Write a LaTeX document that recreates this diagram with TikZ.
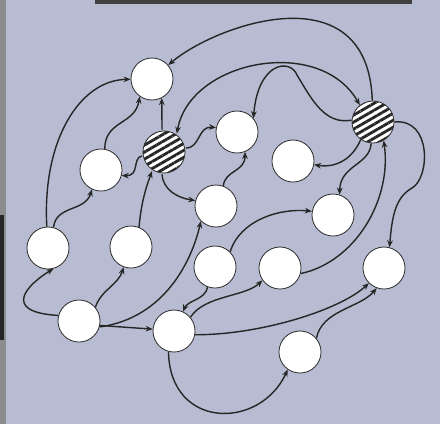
\documentclass[tikz,border=0pt]{standalone}
\usepackage{tikz}
\usetikzlibrary{arrows.meta,patterns.meta}
\definecolor{panel}{RGB}{184,188,210}
\begin{document}
\begin{tikzpicture}[x=0.025cm,y=-0.025cm,>={Stealth[length=5pt,width=4pt]},
  vtx/.style={circle,draw=black!80,line width=0.6pt,fill=white,minimum size=1.05cm,inner sep=0pt},
  hub/.style={circle,draw=black!80,line width=0.6pt,minimum size=1.05cm,inner sep=0pt,preaction={fill=white},pattern={Lines[angle=30,distance=4.3pt,line width=2pt]},pattern color=black!85},
  conn/.style={->,line width=1pt,black!85}]
\useasboundingbox (0,0) rectangle (440,424);
\fill[panel] (0,0) rectangle (440,424);
\fill[black!45] (0,0) rectangle (6,424);
\fill[black!85] (0,215) rectangle (4,340);
\fill[black!75] (95,0) rectangle (412,4);
\node[vtx] (n1) at (152,79) {};
\node[hub] (h1) at (164,152) {};
\node[hub] (h2) at (373,122) {};
\node[vtx] (n2) at (237,132) {};
\node[vtx] (n3) at (101,170) {};
\node[vtx] (n4) at (293,161) {};
\node[vtx] (n5) at (216,206) {};
\node[vtx] (n6) at (333,215) {};
\node[vtx] (n7) at (48,248) {};
\node[vtx] (n8) at (131,247) {};
\node[vtx] (n9) at (215,267) {};
\node[vtx] (n10) at (280,268) {};
\node[vtx] (n11) at (384,268) {};
\node[vtx] (n12) at (79,321) {};
\node[vtx] (n13) at (174,331) {};
\node[vtx] (n14) at (300,352) {};
\draw[conn] (h2) .. controls (368,-30) and (215,25) .. (n1);
\draw[conn] (n7) .. controls (42,140) and (80,80) .. (n1);
\draw[conn] (n7.75) .. controls (56,205) and (85,212) .. (n3.245);
\draw[conn] (n3.80) .. controls (105,120) and (135,125) .. (n1.235);
\draw[conn] (h1.95) -- (n1.297);
\draw[conn,<->] (h1.55) .. controls (190,60) and (320,35) .. (h2.128);
\draw[conn] (h2.175) .. controls (325,125) and (312,100) .. (297,75) .. controls (290,58) and (258,62) .. (n2.40);
\draw[conn] (h1.190) .. controls (132,158) and (140,176) .. (n3.-15);
\draw[conn] (h1.10) .. controls (200,148) and (198,126) .. (n2.168);
\draw[conn] (h1.265) .. controls (163,190) and (178,198) .. (n5.165);
\draw[conn] (n8.68) .. controls (141,205) and (145,190) .. (h1.238);
\draw[conn] (n12.-16) .. controls (165,318) and (192,260) .. (n5.225);
\draw[conn] (n12.-12) -- (n13.175);
\draw[conn] (n12.40) .. controls (101,290) and (118,285) .. (n8.250);
\draw[conn] (n12.165) .. controls (0,312) and (28,284) .. (n7.285);
\draw[conn] (n9.45) .. controls (240,220) and (280,208) .. (n6.170);
\draw[conn] (n9.250) .. controls (205,300) and (188,300) .. (n13.65);
\draw[conn] (n13.40) .. controls (205,295) and (245,297) .. (n10.215);
\draw[conn] (n13.-10) .. controls (260,335) and (340,310) .. (n11.225);
\draw[conn] (n13.255) .. controls (170,430) and (260,430) .. (n14.235);
\draw[conn] (n14.40) .. controls (322,310) and (360,308) .. (n11.250);
\draw[conn] (n10.-15) .. controls (355,262) and (392,200) .. (h2.-60);
\draw[conn] (h2.0) .. controls (432,118) and (430,178) .. (412,188) .. controls (396,197) and (392,215) .. (n11.75);
\draw[conn] (h2.235) .. controls (352,160) and (335,168) .. (n4.-10);
\draw[conn] (h2.265) .. controls (370,165) and (340,165) .. (n6.72);
\draw[conn] (n5.70) .. controls (225,170) and (245,172) .. (n2.-68);
\end{tikzpicture}
\end{document}
